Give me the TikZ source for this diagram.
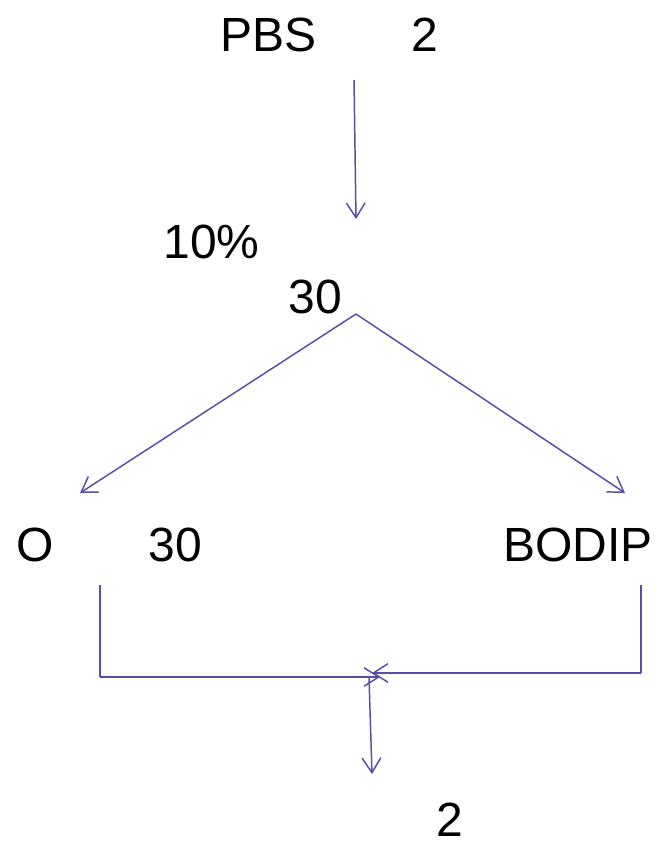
\documentclass[tikz,border=0pt]{standalone}
\usepackage{fontspec}
\setmainfont{Liberation Sans}
\usetikzlibrary{arrows.meta}
\definecolor{flowline}{RGB}{88,76,170}
\tikzset{every picture/.style={line width=0.75pt}}
\tikzset{
  lbl/.style={anchor=base west,inner sep=0pt,font=\fontsize{36}{43}\selectfont},
  flow/.style={draw=flowline,line width=1.1pt,-{Straight Barb[length=11pt,width=14pt,line width=1.1pt]}},
  link/.style={draw=flowline,line width=1.1pt}
}

\begin{document}
\begin{tikzpicture}[x=0.75pt,y=0.75pt,yscale=-1,xscale=1]
\useasboundingbox (0,0) rectangle (659,845);

% Text Node
\node [lbl] (pbs) at (220,52) {PBS};
% Text Node
\node [lbl] (pbstwo) at (411,52) {2};
% Text Node
\node [lbl] (pct) at (163,258) {10\%};
% Text Node
\node [lbl] (mixtime) at (288,313) {30};
% Text Node
\node [lbl] (oleft) at (16,561) {O};
% Text Node
\node [lbl] (otime) at (148,561) {30};
% Text Node
\node [lbl] (bodip) at (503,561) {BODIP};
% Text Node
\node [lbl] (endtwo) at (436,836) {2};

% end points of the connectors
\coordinate (topstart) at (354,80);
\coordinate (topend) at (356,219);
\coordinate (apex) at (356,314);
\coordinate (leftend) at (80,493);
\coordinate (rightend) at (625,493);
\coordinate (ltop) at (100,585);
\coordinate (lbot) at (100,677);
\coordinate (rtop) at (641,585);
\coordinate (rbot) at (641,673);
\coordinate (ljoin) at (380,677);
\coordinate (rjoin) at (372,673);
\coordinate (downstart) at (369,678);
\coordinate (downend) at (372,774);

%Straight Lines
\draw [flow] (topstart) -- (topend);
%Straight Lines
\draw [flow] (apex) -- (leftend);
\draw [flow] (apex) -- (rightend);
%Straight Lines
\draw [link] (ltop) -- (lbot);
\draw [flow] (lbot) -- (ljoin);
\draw [link] (rtop) -- (rbot);
\draw [flow] (rbot) -- (rjoin);
%Straight Lines
\draw [flow] (downstart) -- (downend);

\end{tikzpicture}
\end{document}
